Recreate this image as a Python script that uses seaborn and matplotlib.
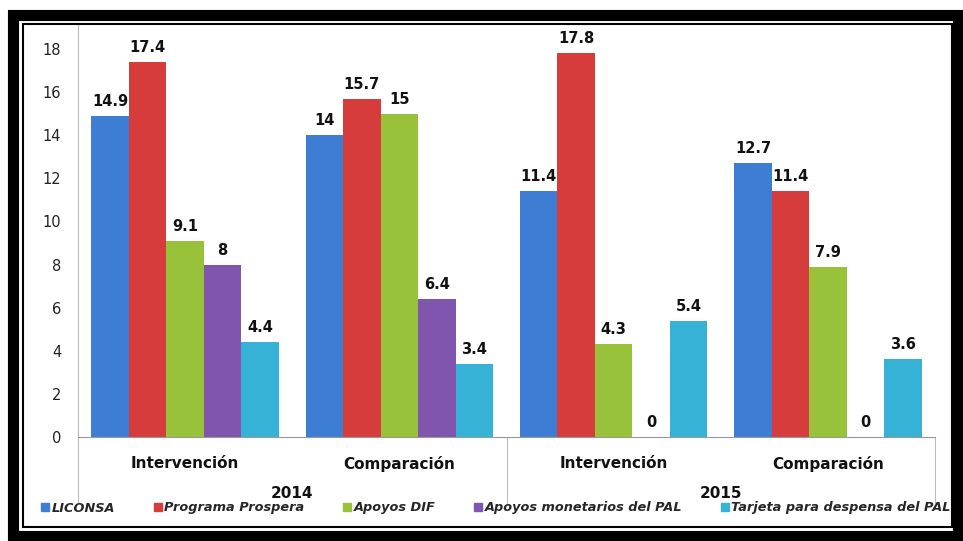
import pandas as pd
import matplotlib.pyplot as plt
import seaborn as sns
from matplotlib.patches import Rectangle
from matplotlib.lines import Line2D

# Data
grupos = ["2014 Intervención", "2014 Comparación", "2015 Intervención", "2015 Comparación"]
etiquetas = ["Intervención", "Comparación", "Intervención", "Comparación"]
anios = ["2014", "2015"]
programas = ["LICONSA", "Programa Prospera", "Apoyos DIF",
             "Apoyos monetarios del PAL", "Tarjeta para despensa del PAL"]
liconsa = [14.9, 14, 11.4, 12.7]
prospera = [17.4, 15.7, 17.8, 11.4]
dif = [9.1, 15, 4.3, 7.9]
pal_monetarios = [8, 6.4, 0, 0]
pal_tarjeta = [4.4, 3.4, 5.4, 3.6]
colores = ["#3D7DD4", "#D63C3C", "#98C23A", "#7F55AD", "#36B2D6"]

rows = []
for prog, vals in zip(programas, [liconsa, prospera, dif, pal_monetarios, pal_tarjeta]):
    for g, v in zip(grupos, vals):
        rows.append({"grupo": g, "programa": prog, "valor": v})
df = pd.DataFrame(rows)

sns.set_theme(style="white")
plt.rcParams['font.family'] = ['DejaVu Sans']

W, H = 963, 541
fig = plt.figure(figsize=(W / 100, H / 100), dpi=100)
fig.patch.set_facecolor("white")

x0, x1, y0, y1 = 78, 935, 437, 25
ax = fig.add_axes([x0 / W, 1 - y0 / H, (x1 - x0) / W, (y0 - y1) / H])

sns.barplot(data=df, x="grupo", y="valor", hue="programa", order=grupos,
            hue_order=programas, palette=colores, width=0.875, saturation=1,
            edgecolor="none", ax=ax)

for cont in ax.containers:
    ax.bar_label(cont, fmt="%g", padding=5, fontsize=10.5, fontweight="bold", color="#111111")

ax.set_ylim(0, 18 * (y0 - y1) / (y0 - 49))
ax.set_xlim(-0.5, 3.5)
ax.set_yticks(range(0, 19, 2))
ax.tick_params(axis="y", labelsize=10.5, colors="#222222", pad=12, length=0)
ax.set_xticks([])
ax.set_xlabel("")
ax.set_ylabel("")
for side in ["top", "right"]:
    ax.spines[side].set_visible(False)
ax.spines["left"].set_color("#BBBBBB")
ax.spines["bottom"].set_color("#999999")
ax.spines["left"].set_linewidth(0.8)
ax.spines["bottom"].set_linewidth(0.8)
ax.get_legend().remove()

# category and year labels below the axis
for i, lab in enumerate(etiquetas):
    ax.text(i, -0.045, lab, transform=ax.get_xaxis_transform(), ha="center", va="top",
            fontsize=11, fontweight="bold", color="#111111")
for j, a in enumerate(anios):
    ax.text(0.5 + 2 * j, -0.12, a, transform=ax.get_xaxis_transform(), ha="center", va="top",
            fontsize=11, fontweight="bold", color="#111111")
for xv in [-0.5, 1.5, 3.5]:
    ax.add_line(Line2D([xv, xv], [0, -0.16], transform=ax.get_xaxis_transform(),
                       color="#BBBBBB", lw=0.8, clip_on=False))

# legend
handles = [Rectangle((0, 0), 1, 1, color=c) for c in colores]
fig.legend(handles, programas, loc="center", bbox_to_anchor=(0.515, 1 - 508 / H), ncol=5,
           frameon=False, handlelength=0.6, handleheight=0.6, handletextpad=0.2,
           columnspacing=3.0, prop={"style": "italic", "weight": "bold", "size": 9.3})

# frame around the picture
fig.patches.append(Rectangle((13 / W, 5 / H), (W - 18) / W, 1 - 20 / H, transform=fig.transFigure,
                             fill=False, edgecolor="black", lw=8, zorder=10))
fig.patches.append(Rectangle((23 / W, 1 - 527 / H), (952 - 23) / W, (527 - 24) / H,
                             transform=fig.transFigure, fill=False, edgecolor="black",
                             lw=1.5, zorder=10))

fig.savefig("out.png", dpi=100)
